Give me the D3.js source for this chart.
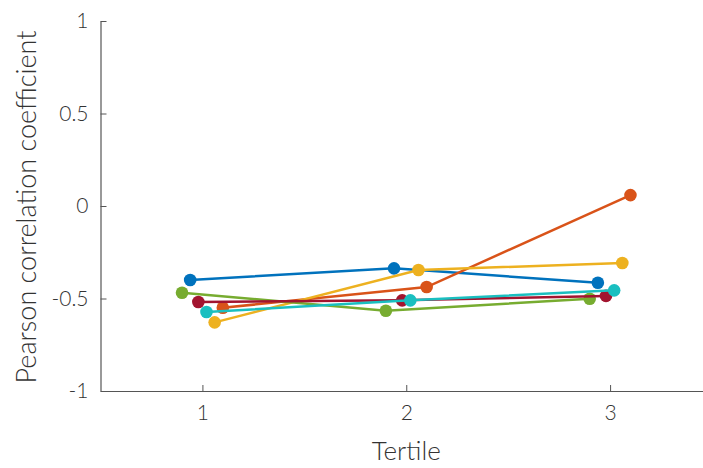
<!DOCTYPE html>
<html>
<head>
<meta charset="utf-8">
<script src="https://cdn.jsdelivr.net/npm/d3@7"></script>
<style>
  html, body { margin: 0; padding: 0; background: #fff; }
  svg text { font-family: Lato, "Open Sans", sans-serif; font-weight: 300; fill: #333; }
</style>
</head>
<body>
<svg id="chart" width="703" height="468"></svg>
<script>
// Tertile positions and per-series correlation values
const tertiles = [1, 2, 3];
const seriesNames = ["blue", "orange", "yellow", "green", "red", "cyan"];
const seriesColors = ["#0072BD", "#D95319", "#EDB120", "#77AC30", "#A2142F", "#1ABFC0"];
// horizontal jitter per series, in tertile units
const seriesOffsets = [-0.06, 0.10, 0.06, -0.10, -0.02, 0.02];
const blueValues   = [-0.40, -0.337, -0.415];
const orangeValues = [-0.55, -0.438, 0.059];
const yellowValues = [-0.629, -0.346, -0.308];
const greenValues  = [-0.469, -0.566, -0.501];
const redValues    = [-0.519, -0.51, -0.486];
const cyanValues   = [-0.573, -0.51, -0.456];
const yTicks = [-1, -0.5, 0, 0.5, 1];
const yTickLabels = ["-1", "-0.5", "0", "0.5", "1"];
const xTickLabels = ["1", "2", "3"];

const allValues = [blueValues, orangeValues, yellowValues, greenValues, redValues, cyanValues];

const svg = d3.select("#chart");
const x = d3.scaleLinear().domain([0.5, 3.5]).range([100.5, 712]);
const y = d3.scaleLinear().domain([-1, 1]).range([391, 21]);

// axes: left and bottom only, ticks pointing inward
const yAxis = d3.axisLeft(y).tickValues(yTicks)
  .tickFormat((d, i) => yTickLabels[i]).tickSizeInner(-6).tickSizeOuter(0).tickPadding(12);
const xAxis = d3.axisBottom(x).tickValues(tertiles)
  .tickFormat((d, i) => xTickLabels[i]).tickSizeInner(-6).tickSizeOuter(0).tickPadding(14);

const gy = svg.append("g").attr("transform", "translate(100.5,0)").call(yAxis);
const gx = svg.append("g").attr("transform", "translate(0,391)").call(xAxis);
[gx, gy].forEach(g => {
  g.select(".domain").attr("stroke", "#555").attr("stroke-width", 1.2);
  g.selectAll(".tick line").attr("stroke", "#555").attr("stroke-width", 1);
  g.selectAll(".tick text").style("font-size", "21px").attr("fill", "#333");
});

// series lines with markers
const line = d3.line().x(d => x(d.t)).y(d => y(d.v));
allValues.forEach((vals, i) => {
  const pts = tertiles.map((t, j) => ({ t: t + seriesOffsets[i], v: vals[j] }));
  const g = svg.append("g").attr("class", "series-" + seriesNames[i]);
  g.append("path").datum(pts).attr("d", line)
    .attr("fill", "none").attr("stroke", seriesColors[i]).attr("stroke-width", 2.5);
  g.selectAll("circle").data(pts).join("circle")
    .attr("cx", d => x(d.t)).attr("cy", d => y(d.v)).attr("r", 6.3)
    .attr("fill", seriesColors[i]);
});

// axis titles
svg.append("text").attr("x", x(2)).attr("y", 460).attr("text-anchor", "middle")
  .style("font-size", "26px").text("Tertile");
svg.append("text").attr("transform", "translate(36,207) rotate(-90)")
  .attr("text-anchor", "middle").style("font-size", "27px").text("Pearson correlation coefficient");
</script>
</body>
</html>
